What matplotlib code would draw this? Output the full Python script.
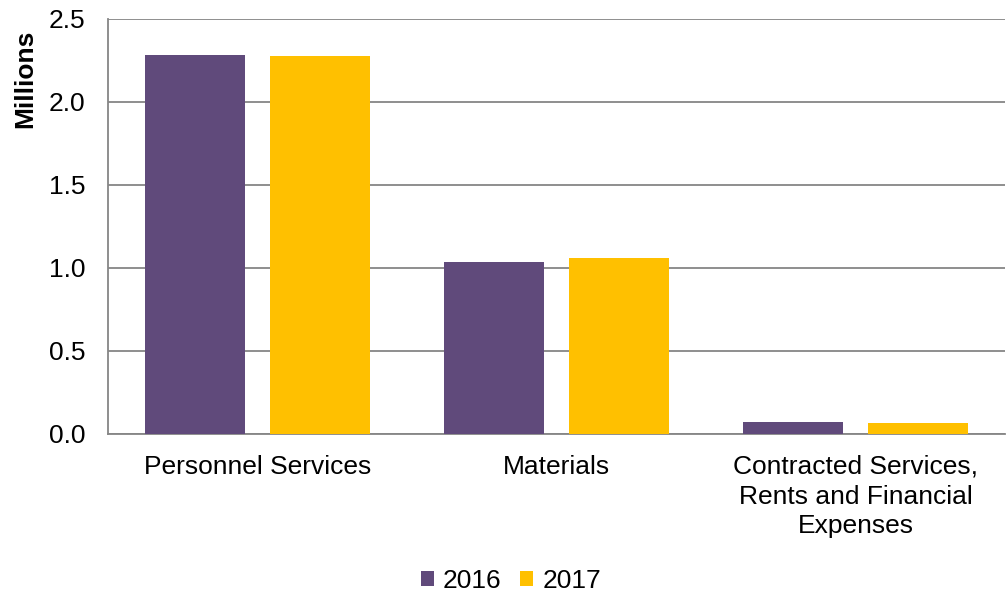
import matplotlib.pyplot as plt
import numpy as np

categories = ["Personnel Services", "Materials",
              "Contracted Services,\nRents and Financial\nExpenses"]
years = ["2016", "2017"]
values_2016 = [2.281, 1.037, 0.072]
values_2017 = [2.276, 1.057, 0.066]

PURPLE = "#604A7B"
GOLD = "#FFC000"
GRID = "#868686"
FS = 19

plt.rcParams['font.family'] = ['Liberation Sans', 'DejaVu Sans']

fig = plt.figure(figsize=(10.06, 5.94), dpi=100)
ax = fig.add_axes([0.1074, 0.2694, 0.8916, 0.6991])

x = np.arange(len(categories))
w = 1 / 3
off = w / 2 + 1 / 24
ax.bar(x - off, values_2016, w, color=PURPLE, label=years[0], zorder=3)
ax.bar(x + off, values_2017, w, color=GOLD, label=years[1], zorder=3)

ax.set_xlim(-0.5, len(categories) - 0.5)
ax.set_ylim(0, 2.5)
yt = np.arange(0, 2.51, 0.5)
ax.set_yticks(yt)
ax.set_yticklabels([f"{v:.1f}" for v in yt], fontsize=FS)
ax.set_xticks(x)
ax.set_xticklabels(categories, fontsize=FS, linespacing=1.3)
ax.tick_params(axis='both', length=0)
ax.tick_params(axis='y', pad=16.5)
ax.tick_params(axis='x', pad=15)

ax.yaxis.grid(True, color=GRID, linewidth=1.3, zorder=0)
for s in ['top', 'right']:
    ax.spines[s].set_visible(False)
for s in ['left', 'bottom']:
    ax.spines[s].set_color(GRID)
    ax.spines[s].set_linewidth(1.3)

ax.set_ylabel("Millions", fontsize=FS, fontweight='bold')
ax.yaxis.set_label_coords(-0.079, 0.856)

fig.legend(loc='center', bbox_to_anchor=(0.508, 0.022), ncol=2, frameon=False,
           fontsize=FS, handlelength=0.5, handleheight=0.5, handletextpad=0.35,
           columnspacing=0.7)

fig.savefig("out.png", dpi=100)
